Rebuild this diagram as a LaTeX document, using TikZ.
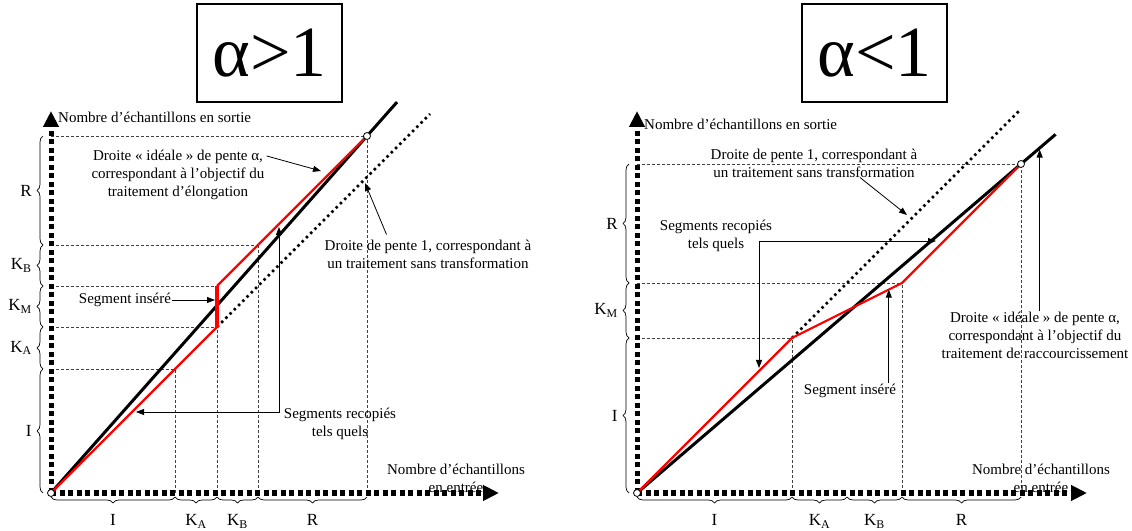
\documentclass[tikz,border=0pt]{standalone}
\usepackage{fontspec}
\setmainfont{Liberation Serif}
\usetikzlibrary{arrows.meta, positioning, calc, decorations.pathreplacing}

\begin{document}
\begin{tikzpicture}[
  x=1pt, y=1pt,
  % thick square-dotted axes with a solid head
  axis/.style={line width=5pt, dash pattern=on 5pt off 3.5pt,
               -{Triangle[length=16pt,width=15pt]}},
  guide/.style={line width=0.6pt, black!75, dash pattern=on 3pt off 2pt},
  ideal/.style={line width=3pt, black},
  identity/.style={line width=2.5pt, dash pattern=on 2.5pt off 3.5pt},
  actual/.style={line width=2.2pt, red},
  inserted/.style={line width=4pt, red},
  endpoint/.style={circle, draw, fill=white, line width=0.8pt,
                   inner sep=0pt, minimum size=7pt},
  titlebox/.style={draw, line width=1.3pt, minimum width=145pt,
                   minimum height=98pt, font=\fontsize{72}{80}\selectfont},
  note/.style={font=\fontsize{15}{18}\selectfont, align=center, inner sep=1pt},
  pointer/.style={-{Triangle[length=8pt,width=6pt]}, line width=0.8pt},
  pointers/.style={{Triangle[length=8pt,width=6pt]}-{Triangle[length=8pt,width=6pt]},
                   line width=0.8pt},
  vpart/.style={decorate, decoration={brace, amplitude=6pt}, line width=0.7pt},
  hpart/.style={decorate, decoration={brace, mirror, amplitude=6pt}, line width=0.7pt},
  partlabel/.style={font=\fontsize{17}{20}\selectfont, inner sep=1pt}
]

\useasboundingbox (0,0) rectangle (1132,530);

% --- alpha > 1 : elongation ---------------------------------------------------
\begin{scope}[shift={(51,37)}]
  \coordinate (lO)  at (0,0);
  \coordinate (lI)  at (124,124);   % end of I
  \coordinate (lKA) at (166,166);   % foot of the inserted segment
  \coordinate (lKM) at (166,207);   % head of the inserted segment
  \coordinate (lKB) at (207,248);
  \coordinate (lR)  at (316,357);   % last point
  \coordinate (lB)  at ($(lO)!1.095!(lR)$);
  \coordinate (lD)  at (379,379);

  % guides down to the axes
  \foreach \p in {lI, lKA, lKM, lKB, lR}
    \draw[guide] (lO |- \p) -- (\p);
  \foreach \p in {lI, lKA, lKB, lR}
    \draw[guide] (lO -| \p) -- (\p);

  \draw[axis] (lO) -- (0,382);
  \draw[axis] (lO) -- (448,0);

  % parts of the output
  \draw[vpart] (-8,0)   -- (-8,124) node[partlabel, midway, anchor=east, xshift=-10pt] (lyI)  {I};
  \draw[vpart] (-8,124) -- (-8,166) node[partlabel, midway, anchor=east, xshift=-10pt] (lyKA) {K\textsubscript{A}};
  \draw[vpart] (-8,166) -- (-8,207) node[partlabel, midway, anchor=east, xshift=-10pt] (lyKM) {K\textsubscript{M}};
  \draw[vpart] (-8,207) -- (-8,248) node[partlabel, midway, anchor=east, xshift=-10pt] (lyKB) {K\textsubscript{B}};
  \draw[vpart] (-8,248) -- (-8,357) node[partlabel, midway, anchor=east, xshift=-10pt] (lyR)  {R};
  % parts of the input
  \draw[hpart] (0,-4)   -- (124,-4) node[partlabel, midway, anchor=north, yshift=-16pt] (lxI)  {I};
  \draw[hpart] (124,-4) -- (166,-4) node[partlabel, midway, anchor=north, yshift=-16pt] (lxKA) {K\textsubscript{A}};
  \draw[hpart] (166,-4) -- (207,-4) node[partlabel, midway, anchor=north, yshift=-16pt] (lxKB) {K\textsubscript{B}};
  \draw[hpart] (207,-4) -- (316,-4) node[partlabel, midway, anchor=north, yshift=-16pt] (lxR)  {R};

  % the three lines
  \draw[ideal] (lO) -- (lB);
  \draw[identity] (lKA) -- (lD);
  \draw[actual] (lO) -- (lKA);
  \draw[inserted] (lKA) -- (lKM);
  \draw[actual] (lKM) -- (lR);

  \node[endpoint] (lstart) at (lO) {};
  \node[endpoint] (lend)   at (lR) {};

  \node[titlebox] (ltitle) at (218.5,440) {α>1};
  \node[note, anchor=west] (lout) at (6,376) {Nombre d’échantillons en sortie};
  \node[note] (lin) at (405,15) {Nombre d’échantillons\\en entrée};

  % annotations
  \node[note] (lideal) at (127,318)
    {Droite « idéale » de pente α,\\correspondant à l’objectif du\\traitement d’élongation};
  \coordinate (lidealtip) at (270,322);
  \draw[pointer] ($(lideal.north east)+(1,-7)$) -- (lidealtip);

  \node[note] (lpente) at (377,239)
    {Droite de pente 1, correspondant à\\un traitement sans transformation};
  \coordinate (lpentetip) at (314,310);
  \draw[pointer] ($(lpente.north west)+(63,4)$) -- (lpentetip);

  \node[note] (linsere) at (74,193) {Segment inséré};
  \draw[pointer, shorten >=2pt] (linsere.east) -- (linsere -| lKA);

  \node[note] (lrecop) at (289,69.5) {Segments recopiés\\tels quels};
  \coordinate (lrecopknee) at (228,81);
  \coordinate (lrecoplow)  at (85,81);
  \coordinate (lrecophigh) at (228,266);
  \draw[pointers] (lrecoplow) -- (lrecopknee) -- (lrecophigh);
\end{scope}

% --- alpha < 1 : shortening ---------------------------------------------------
\begin{scope}[shift={(637,37)}]
  \coordinate (rO)  at (0,0);
  \coordinate (rI)  at (155,155);   % end of I
  \coordinate (rKM) at (265,210);   % end of the inserted segment
  \coordinate (rR)  at (384,329);   % last point
  \coordinate (rB)  at ($(rO)!1.09!(rR)$);
  \coordinate (rD)  at (382,382);

  \foreach \p in {rI, rKM, rR}
    \draw[guide] (rO |- \p) -- (\p);
  \foreach \p in {rI, rKM, rR}
    \draw[guide] (rO -| \p) -- (\p);

  \draw[axis] (rO) -- (0,382);
  \draw[axis] (rO) -- (450,0);

  \draw[vpart] (-8,0)   -- (-8,155) node[partlabel, midway, anchor=east, xshift=-10pt] (ryI)  {I};
  \draw[vpart] (-8,155) -- (-8,210) node[partlabel, midway, anchor=east, xshift=-10pt] (ryKM) {K\textsubscript{M}};
  \draw[vpart] (-8,210) -- (-8,329) node[partlabel, midway, anchor=east, xshift=-10pt] (ryR)  {R};
  \draw[hpart] (0,-4)   -- (155,-4) node[partlabel, midway, anchor=north, yshift=-16pt] (rxI)  {I};
  \draw[hpart] (155,-4) -- (210,-4) node[partlabel, midway, anchor=north, yshift=-16pt] (rxKA) {K\textsubscript{A}};
  \draw[hpart] (210,-4) -- (265,-4) node[partlabel, midway, anchor=north, yshift=-16pt] (rxKB) {K\textsubscript{B}};
  \draw[hpart] (265,-4) -- (384,-4) node[partlabel, midway, anchor=north, yshift=-16pt] (rxR)  {R};

  \draw[ideal] (rO) -- (rB);
  \draw[identity] (rI) -- (rD);
  \draw[actual] (rO) -- (rI) -- (rKM) -- (rR);

  \node[endpoint] (rstart) at (rO) {};
  \node[endpoint] (rend)   at (rR) {};

  \node[titlebox] (rtitle) at (237.5,440) {α<1};
  \node[note, anchor=west] (rout) at (6,369) {Nombre d’échantillons en sortie};
  \node[note] (rin) at (404,15) {Nombre d’échantillons\\en entrée};

  \node[note] (rpente) at (177,330)
    {Droite de pente 1, correspondant à\\un traitement sans transformation};
  \coordinate (rpentetip) at (270,278);
  \draw[pointer] ($(rpente.south)+(46,1)$) -- (rpentetip);

  \node[note] (rrecop) at (79,257.5) {Segments recopiés\\tels quels};
  \coordinate (rrecopknee)  at (122,252);
  \coordinate (rrecopright) at (299,252);
  \coordinate (rrecoplow)   at (122,125);
  \draw[pointers] (rrecoplow) -- (rrecopknee) -- (rrecopright);

  \node[note] (rinsere) at (213,102) {Segment inséré};
  \coordinate (rinseretip) at ($(rI)!0.88!(rKM)$);
  \draw[pointer] (rinsere.north -| rinseretip) -- (rinseretip);

  \node[note] (rideal) at (398,158)
    {Droite « idéale » de pente α,\\correspondant à l’objectif du\\traitement de raccourcissement};
  \coordinate (ridealtip) at ($(rO)!0.962!(rB)$);
  \draw[pointer, shorten >=1.5pt] (rideal.north -| ridealtip) -- (ridealtip);
\end{scope}

\end{tikzpicture}
\end{document}
